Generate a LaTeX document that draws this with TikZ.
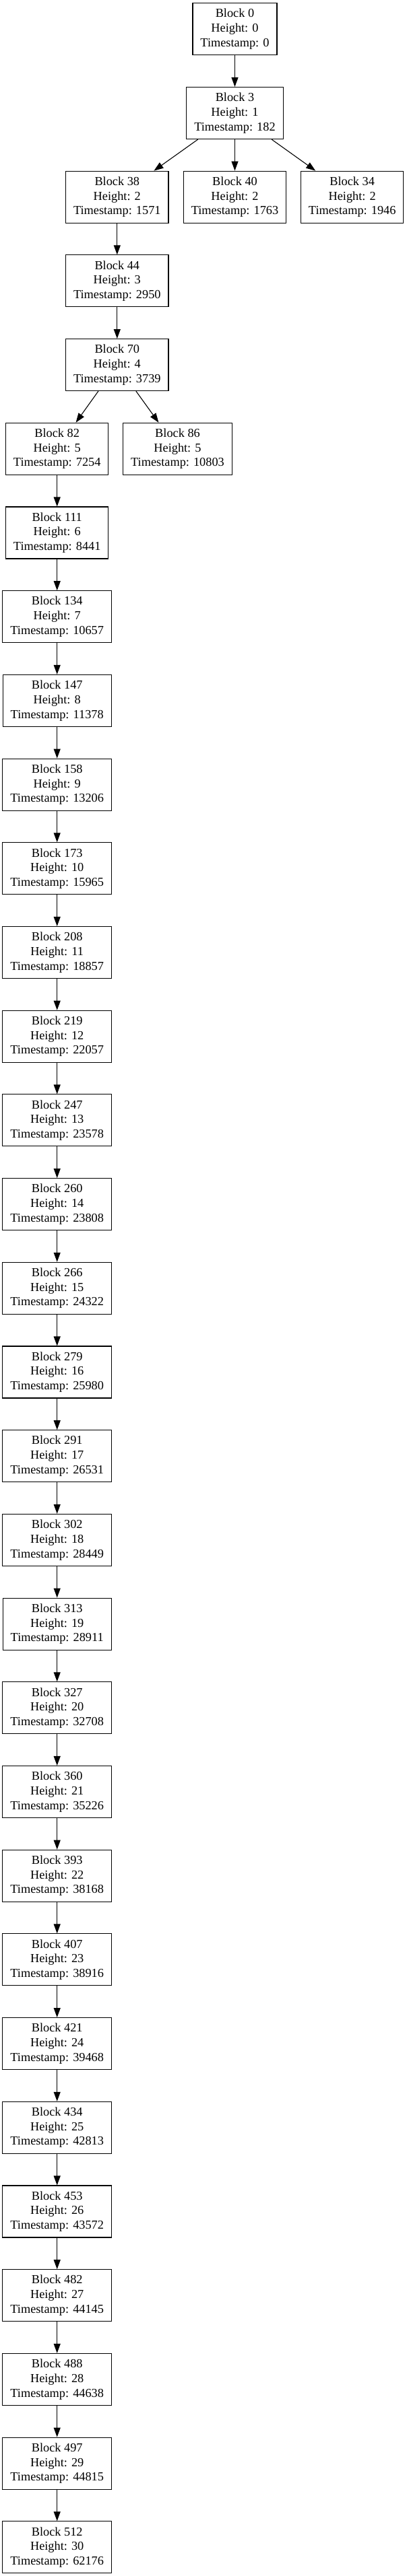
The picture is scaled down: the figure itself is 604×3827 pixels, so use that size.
\documentclass[tikz,border=0pt]{standalone}
\usepackage{fontspec}
\setmainfont{Liberation Serif}
\usetikzlibrary{arrows.meta}
\begin{document}
\begin{tikzpicture}[x=1pt,y=1pt]
\tikzset{
  blk/.style={draw, line width=1.1pt, rectangle, align=center, minimum height=77pt,
    inner xsep=11.5pt, inner ysep=0pt, font=\fontsize{18.3}{21.7}\selectfont},
  edge/.style={line width=1.1pt, -{Triangle[length=14pt,width=10pt]}}
}
\fill[white] (0,0) rectangle (604,-3827);
\useasboundingbox (0,0) rectangle (604,-3827);
\node[blk] (n0) at (348.5,-43.3) {Block 0\\Height: 0\\Timestamp: 0};
\node[blk] (n3) at (348.5,{-(43.3+124.7*1)}) {Block 3\\Height: 1\\Timestamp: 182};
\node[blk] (n38) at (173.8,{-(43.3+124.7*2)}) {Block 38\\Height: 2\\Timestamp: 1571};
\node[blk] (n40) at (348.5,{-(43.3+124.7*2)}) {Block 40\\Height: 2\\Timestamp: 1763};
\node[blk] (n34) at (522.7,{-(43.3+124.7*2)}) {Block 34\\Height: 2\\Timestamp: 1946};
\node[blk] (n44) at (173.8,{-(43.3+124.7*3)}) {Block 44\\Height: 3\\Timestamp: 2950};
\node[blk] (n70) at (173.8,{-(43.3+124.7*4)}) {Block 70\\Height: 4\\Timestamp: 3739};
\node[blk] (n82) at (84.7,{-(43.3+124.7*5)}) {Block 82\\Height: 5\\Timestamp: 7254};
\node[blk] (n86) at (263.5,{-(43.3+124.7*5)}) {Block 86\\Height: 5\\Timestamp: 10803};
\draw[edge] (n0) -- (n3);
\draw[edge] (n3) -- (n38);
\draw[edge] (n3) -- (n40);
\draw[edge] (n3) -- (n34);
\draw[edge] (n38) -- (n44);
\draw[edge] (n44) -- (n70);
\draw[edge] (n70) -- (n82);
\draw[edge] (n70) -- (n86);
\foreach \b/\h/\t [remember=\b as \p (initially 82)] in {111/6/8441,134/7/10657,147/8/11378,158/9/13206,173/10/15965,208/11/18857,219/12/22057,247/13/23578,260/14/23808,266/15/24322,279/16/25980,291/17/26531,302/18/28449,313/19/28911,327/20/32708,360/21/35226,393/22/38168,407/23/38916,421/24/39468,434/25/42813,453/26/43572,482/27/44145,488/28/44638,497/29/44815,512/30/62176}{
  \node[blk] (n\b) at (84.7,{-(43.3+124.7*\h)}) {Block \b\\Height: \h\\Timestamp: \t};
  \draw[edge] (n\p) -- (n\b);
}
\end{tikzpicture}
\end{document}
